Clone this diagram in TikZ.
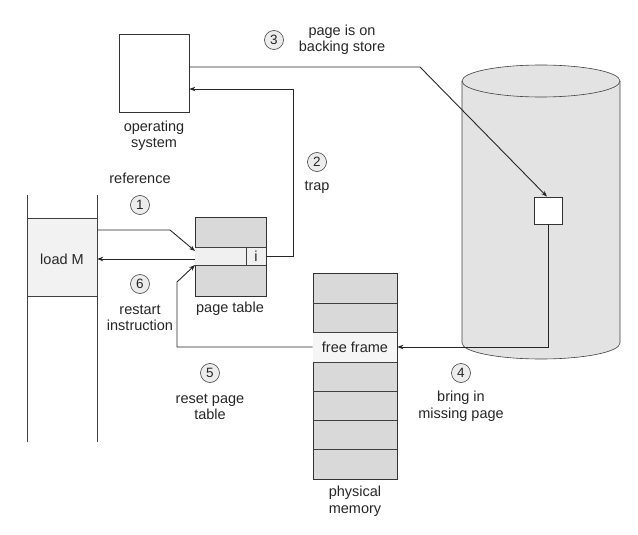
\documentclass[tikz,border=0pt]{standalone}
\usepackage{fontspec}
\setmainfont{Liberation Sans}
\usetikzlibrary{arrows.meta,calc}
\begin{document}
\begin{tikzpicture}[x=1pt,y=-1pt,
 lbl/.style={font=\fontsize{14.5}{16.5}\selectfont, align=center, inner sep=0pt, text=black!85},
 num/.style={circle, draw=black!75, fill=gray!15, line width=0.6pt, minimum size=19pt, inner sep=0pt, font=\fontsize{13.5}{15}\selectfont, text=black!85},
 box/.style={draw=black!80, line width=0.8pt, inner sep=0pt},
 thinline/.style={draw=black!75, line width=0.6pt},
 conn/.style={draw=black!85, line width=0.9pt},
 arr/.style={conn, -{Stealth[length=6pt,width=4.5pt]}},
]
\useasboundingbox (0,0) rectangle (638,535);

% cylinder (backing store)
\fill[gray!22] (462,81) -- (462,343) arc[start angle=180,end angle=0,x radius=79,y radius=16] -- (620,81) arc[start angle=0,end angle=-180,x radius=79,y radius=16] -- cycle;
\draw[thinline] (541,81) ellipse [x radius=79, y radius=16];
\draw[thinline] (462,81) -- (462,343) arc[start angle=180,end angle=0,x radius=79,y radius=16] -- (620,81);
\node[box, fill=white, minimum width=28pt, minimum height=27pt] (sq) at (548,210.5) {};

% operating system
\node[box, fill=white, minimum width=70pt, minimum height=78pt] (os) at (154,73) {};
\node[lbl] (oslbl) at (154,136) {operating\\system};

% program
\fill[gray!10] (27,218) rectangle (97,296);
\draw[thinline] (27,195) -- (27,442);
\draw[thinline] (97,195) -- (97,442);
\draw[thinline] (27,218) -- (97,218);
\draw[thinline] (27,296) -- (97,296);
\node[minimum width=70pt, minimum height=78pt, inner sep=0pt] (prog) at (62,257) {};
\node[lbl] (loadm) at (62,259) {load M};

% page table
\node[box, fill=gray!30, minimum width=71pt, minimum height=79pt] (pt) at (230.5,256.5) {};
\fill[gray!12] (195,247) rectangle (266,265);
\draw[thinline] (195,247) -- (266,247);
\draw[thinline] (195,265) -- (266,265);
\draw[thinline] (246,247) -- (246,265);
\node[lbl] (ibit) at (256,256) {i};
\node[lbl] (ptlbl) at (230,309) {page table};

% physical memory
\node[box, fill=gray!30, minimum width=84pt, minimum height=206pt] (pm) at (355,376) {};
\fill[gray!8] (313.4,332) rectangle (396.6,362);
\foreach \yy in {303,332,362,391,420,449} \draw[thinline] (313,\yy) -- (397,\yy);
\node[lbl] (ff) at (355,347) {free frame};
\node[lbl] (pmlbl) at (355,501) {physical\\memory};

% connectors
\coordinate (c3) at (420,67);
\draw[arr] ([yshift=6pt]os.east) -- (c3) -- ([xshift=-1pt]sq.north);
\draw[arr] (sq.south) -- (sq.south |- ff) -- (pm.east |- ff);
\coordinate (t1) at (293,256);
\coordinate (t2) at (293,89);
\draw[arr] (pt.east |- ibit) -- (t1) -- (t2) -- (os.east |- t2);
\coordinate (r1) at (97,230);
\coordinate (r2) at (170,230);
\coordinate (r3) at (195,251);
\draw[arr] (r1) -- (r2) -- (r3);
\draw[arr] (pt.west |- loadm) -- (prog.east |- loadm);
\coordinate (s1) at (177,347);
\coordinate (s2) at (177,282);
\coordinate (s3) at (195,265);
\draw[arr] (pm.west |- ff) -- (s1) -- (s2) -- (s3);

% step labels
\node[num] (n3) at (274,40) {3};
\node[lbl] (l3) at (342,40) {page is on\\backing store};
\node[num] (n2) at (317,162) {2};
\node[lbl] (l2) at (317,187) {trap};
\node[lbl] (l1) at (140,178) {reference};
\node[num] (n1) at (140,205) {1};
\node[num] (n6) at (140,284) {6};
\node[lbl] (l6) at (140,318) {restart\\instruction};
\node[num] (n5) at (210,373) {5};
\node[lbl] (l5) at (210,407) {reset page\\table};
\node[num] (n4) at (461,373) {4};
\node[lbl] (l4) at (461,406) {bring in\\missing page};
\end{tikzpicture}
\end{document}
